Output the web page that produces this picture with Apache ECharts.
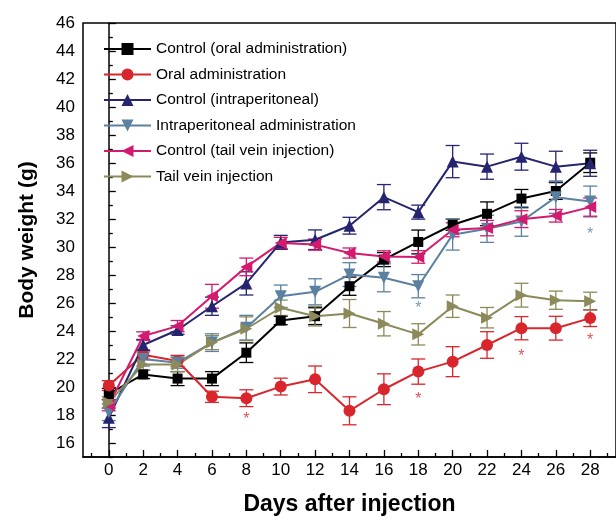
<!DOCTYPE html>
<html><head><meta charset="utf-8">
<script src="https://cdn.jsdelivr.net/npm/echarts@6/dist/echarts.min.js"></script>
<style>html,body{margin:0;padding:0;background:#fff}#c{width:616px;height:521px}</style>
</head><body><div id="c"></div>
<script>
const days = [0,2,4,6,8,10,12,14,16,18,20,22,24,26,28];
const xMinorTicks = [-1,1,3,5,7,9,11,13,15,17,19,21,23,25,27,29];
const yMajorTicks = [16,18,20,22,24,26,28,30,32,34,36,38,40,42,44,46];
const yMinorTicks = [15,17,19,21,23,25,27,29,31,33,35,37,39,41,43,45];

const controlOral      = [19.5,20.9,20.6,20.6,22.45,24.75,25.06,27.2,29.1,30.36,31.59,32.37,33.46,34.0,36.02];
const controlOralErr   = [0.4,0.3,0.5,0.5,0.7,0.3,0.6,0.65,0.5,0.85,0.4,0.85,0.65,0.6,0.7];
const oralAdmin        = [20.1,22.3,21.86,19.3,19.2,20.03,20.55,18.3,19.84,21.1,21.81,23.0,24.2,24.2,24.92];
const oralAdminErr     = [0.35,0.35,0.4,0.4,0.6,0.6,0.95,1.0,1.1,0.9,1.07,0.95,0.83,0.85,0.6];
const controlIP        = [17.8,23.0,24.07,25.77,27.4,30.33,30.52,31.52,33.56,32.49,36.1,35.74,36.45,35.74,35.98];
const controlIPErr     = [0.7,0.4,0.3,0.65,0.83,0.5,0.7,0.6,0.9,0.5,1.15,0.9,0.96,1.1,0.93];
const ipAdmin          = [18.2,22.0,21.74,23.17,24.24,26.48,26.8,28.03,27.8,27.2,30.88,31.3,31.82,33.56,33.25];
const ipAdminErr       = [0.6,0.5,0.4,0.63,0.88,0.8,0.93,0.85,1.0,0.83,1.1,0.97,1.05,1.16,1.1];
const controlTail      = [18.7,23.64,24.35,26.48,28.58,30.29,30.17,29.57,29.33,29.29,31.23,31.35,31.99,32.23,32.85];
const controlTailErr   = [0.4,0.3,0.4,0.85,0.63,0.4,0.4,0.36,0.4,0.45,0.5,0.55,0.6,0.45,0.65];
const tailVein         = [18.9,21.6,21.6,23.17,24.16,25.66,25.06,25.25,24.52,23.76,25.77,24.95,26.56,26.2,26.13];
const tailVeinErr      = [0.4,0.4,0.5,0.5,0.85,0.55,0.7,1.0,0.87,0.76,0.8,0.73,0.85,0.65,0.64];

const redStars  = [[8,17.66],[18,19.13],[24,22.17],[28,23.33]];
const blueStars = [[18,25.6],[28,30.88]];

const groups = [
  {name:'Control (oral administration)', v:controlOral, e:controlOralErr, color:'#000000', symbol:'rect', size:10},
  {name:'Oral administration', v:oralAdmin, e:oralAdminErr, color:'#d9262d', symbol:'circle', size:12},
  {name:'Control (intraperitoneal)', v:controlIP, e:controlIPErr, color:'#25256f', symbol:'triangle', size:12},
  {name:'Intraperitoneal administration', v:ipAdmin, e:ipAdminErr, color:'#5b80a0', symbol:'path://M0,0 L10,0 L5,10 Z', size:12},
  {name:'Control (tail vein injection)', v:controlTail, e:controlTailErr, color:'#d41a6e', symbol:'path://M10,0 L10,10 L0,5 Z', size:12},
  {name:'Tail vein injection', v:tailVein, e:tailVeinErr, color:'#8c8a5a', symbol:'path://M0,0 L10,5 L0,10 Z', size:12}
];

const series = [];
groups.forEach(g => {
  series.push({
    type:'custom', name:g.name+' err', silent:true, z:2,
    data: days.map((d,i)=>[d, g.v[i]-g.e[i], g.v[i]+g.e[i]]),
    renderItem: function(params, api){
      const lo = api.coord([api.value(0), api.value(1)]);
      const hi = api.coord([api.value(0), api.value(2)]);
      const cw = 7;
      const st = {stroke:g.color, lineWidth:1.3};
      return {type:'group', children:[
        {type:'line', shape:{x1:lo[0],y1:lo[1],x2:hi[0],y2:hi[1]}, style:st},
        {type:'line', shape:{x1:lo[0]-cw,y1:lo[1],x2:lo[0]+cw,y2:lo[1]}, style:st},
        {type:'line', shape:{x1:hi[0]-cw,y1:hi[1],x2:hi[0]+cw,y2:hi[1]}, style:st}
      ]};
    }
  });
  series.push({
    type:'line', name:g.name, z:3,
    data: days.map((d,i)=>[d, g.v[i]]),
    symbol:g.symbol, symbolSize:g.size, showAllSymbol:true,
    itemStyle:{color:g.color}, lineStyle:{color:g.color, width:2},
    emphasis:{disabled:true}
  });
});
function stars(data, color){
  return {type:'scatter', data:data, symbolSize:1, itemStyle:{color:'rgba(0,0,0,0)'}, z:4,
    label:{show:true, formatter:'*', position:'inside', color:color, fontSize:16, fontFamily:'Liberation Sans'}};
}
series.push(stars(redStars, '#d9262d'));
series.push(stars(blueStars, '#5b80a0'));

const font = 'Liberation Sans';
const option = {
  animation:false,
  textStyle:{fontFamily:font},
  grid:{left:83, top:23, width:535, height:435, show:true, borderColor:'#000', borderWidth:1.5, backgroundColor:'transparent'},
  legend:{
    data: groups.map(g=>g.name), orient:'vertical', left:98, top:36,
    itemWidth:47, itemHeight:15, itemGap:9.5, padding:5,
    textStyle:{fontSize:15.5, color:'#000', fontFamily:font}
  },
  xAxis:[{
    type:'value', min:-1.5, max:29.5, position:'bottom',
    axisLine:{show:true, lineStyle:{color:'#000', width:1.5}},
    axisTick:{show:true, inside:true, length:7, customValues:days, lineStyle:{color:'#000', width:1.3}},
    axisLabel:{show:true, customValues:days, fontSize:17, color:'#000', margin:5, fontFamily:font},
    splitLine:{show:false},
    name:'Days after injection', nameLocation:'middle', nameGap:36,
    nameTextStyle:{fontSize:23, fontWeight:'bold', color:'#000', fontFamily:font}
  },{
    type:'value', min:-1.5, max:29.5, position:'bottom',
    axisLine:{show:false},
    axisTick:{show:true, inside:true, length:4, customValues:xMinorTicks, lineStyle:{color:'#000', width:1.3}},
    axisLabel:{show:false}, splitLine:{show:false}
  }],
  yAxis:[{
    type:'value', min:15, max:46, position:'left',
    axisLine:{show:true, lineStyle:{color:'#000', width:1.5}},
    axisTick:{show:true, inside:true, length:7, customValues:yMajorTicks, lineStyle:{color:'#000', width:1.3}},
    axisLabel:{show:true, customValues:yMajorTicks, fontSize:17, color:'#000', margin:8, fontFamily:font},
    splitLine:{show:false},
    name:'Body weight (g)', nameLocation:'middle', nameGap:45,
    nameTextStyle:{fontSize:21, fontWeight:'bold', color:'#000', fontFamily:font}
  },{
    type:'value', min:15, max:46, position:'left',
    axisLine:{show:false},
    axisTick:{show:true, inside:true, length:4, customValues:yMinorTicks, lineStyle:{color:'#000', width:1.3}},
    axisLabel:{show:false}, splitLine:{show:false}
  }],
  series: series
};
const chart = echarts.init(document.getElementById('c'), null, {renderer:'canvas'});
chart.setOption(option);
</script>
</body></html>
